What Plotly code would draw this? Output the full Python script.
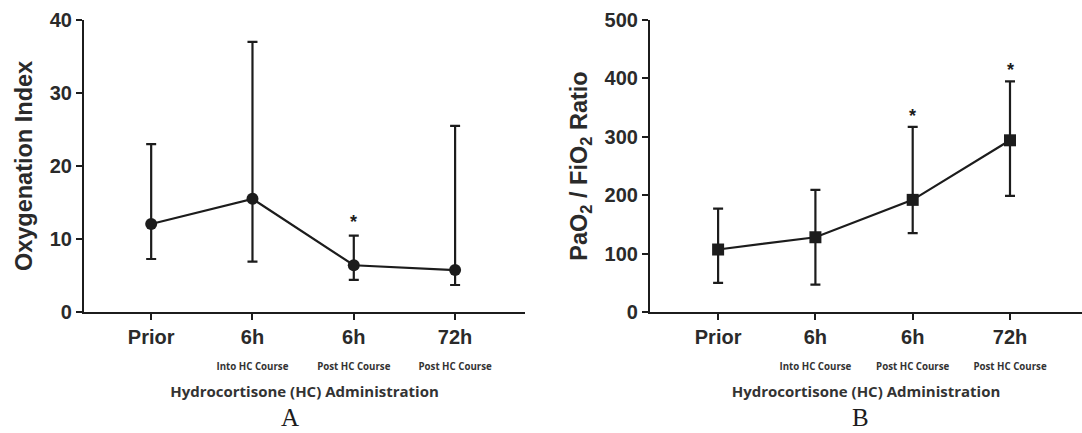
import plotly.graph_objects as go

# ---- data ----
categories = ["Prior", "6h", "6h", "72h"]
subtitles = ["", "Into HC Course", "Post HC Course", "Post HC Course"]

oi_mean = [12.05, 15.5, 6.4, 5.75]
oi_upper = [23.0, 37.0, 10.45, 25.5]
oi_lower = [7.26, 6.9, 4.4, 3.7]
oi_sig = [False, False, True, False]

pf_mean = [107, 128, 192, 294]
pf_upper = [177, 209, 317, 395]
pf_lower = [50, 47, 135, 199]
pf_sig = [False, False, True, True]

oi_ticks = [0, 10, 20, 30, 40]
pf_ticks = [0, 100, 200, 300, 400, 500]

x_title = "Hydrocortisone (HC) Administration"
ya_title = "Oxygenation Index"
yb_title = "PaO<sub>2</sub> / FiO<sub>2</sub> Ratio"
panel_labels = ["A", "B"]

# ---- build ----
xs = list(range(len(categories)))
ticktext = []
for c, s in zip(categories, subtitles):
    t = f"<b>{c}</b>"
    if s:
        t += f"<br><span style='font-size:9.7px;font-family:Open Sans;color:#333'><b>{s}</b></span>"
    ticktext.append(t)

INK = "#1c1c1c"
fig = go.Figure()


def add_series(mean, upper, lower, symbol, xa, ya):
    fig.add_trace(go.Scatter(
        x=xs, y=mean, mode="lines+markers",
        line=dict(color=INK, width=2.2),
        marker=dict(symbol=symbol, size=12, color=INK),
        error_y=dict(type="data", symmetric=False,
                     array=[u - m for u, m in zip(upper, mean)],
                     arrayminus=[m - l for m, l in zip(mean, lower)],
                     color=INK, thickness=2.2, width=5),
        xaxis=xa, yaxis=ya, showlegend=False, hoverinfo="skip",
    ))


add_series(oi_mean, oi_upper, oi_lower, "circle", "x", "y")
add_series(pf_mean, pf_upper, pf_lower, "square", "x2", "y2")

annotations = []
for xref, yref, upper, sig, shift in (("x", "y", oi_upper, oi_sig, 14), ("x2", "y2", pf_upper, pf_sig, 11)):
    for i, (u, s) in enumerate(zip(upper, sig)):
        if s:
            annotations.append(dict(x=i, y=u, xref=xref, yref=yref, text="<b>*</b>",
                                    showarrow=False, yanchor="middle", yshift=shift,
                                    font=dict(family="Liberation Sans", size=18, color=INK)))

for lbl, xc in zip(panel_labels, (290, 860)):
    annotations.append(dict(x=xc / 1082, y=0, xref="paper", yref="paper",
                            text=lbl, showarrow=False, xanchor="center", yanchor="bottom",
                            font=dict(family="Liberation Serif", size=25, color=INK)))

tickfont = dict(family="Liberation Sans", size=20, color="#2a2a2a", weight="bold")
ydom = [1 - 312 / 433, 1 - 20 / 433]

xaxis_common = dict(
    tickvals=xs, ticktext=ticktext, tickfont=tickfont, automargin=False,
    showline=True, linecolor=INK, linewidth=2.2,
    ticks="outside", ticklen=6, tickwidth=2, tickcolor=INK,
    showgrid=False, zeroline=False,
    title=dict(text=f"<b>{x_title}</b>", standoff=14,
               font=dict(family="Open Sans", size=15, color="#333")),
)
yaxis_common = dict(
    tickfont=tickfont, showline=True, linecolor=INK, linewidth=2.2, automargin=False,
    ticks="outside", ticklen=6, tickwidth=2, tickcolor=INK,
    showgrid=False, zeroline=False,
)

fig.update_layout(
    width=1082, height=433,
    margin=dict(l=0, r=0, t=0, b=0),
    paper_bgcolor="white", plot_bgcolor="white",
    xaxis=dict(domain=[84 / 1082, 525 / 1082], range=[-0.663, 3.69], **xaxis_common),
    xaxis2=dict(domain=[650 / 1082, 1.0], range=[-0.70, 3.74], anchor="y2", **xaxis_common),
    yaxis=dict(domain=ydom, range=[0, 40], tickvals=oi_ticks,
               title=dict(text=f"<b>{ya_title}</b>", standoff=10,
                          font=dict(family="Liberation Sans", size=23.5, color="#2a2a2a")),
               **yaxis_common),
    yaxis2=dict(domain=ydom, range=[0, 500], tickvals=pf_ticks, anchor="x2",
                title=dict(text=f"<b>{yb_title}</b>", standoff=10,
                           font=dict(family="Liberation Sans", size=23.5, color="#2a2a2a")),
                **yaxis_common),
    annotations=annotations,
)

fig.write_html("out.html", config={"displayModeBar": False},
               post_script="document.body.style.margin='0';document.body.style.overflow='hidden';")
